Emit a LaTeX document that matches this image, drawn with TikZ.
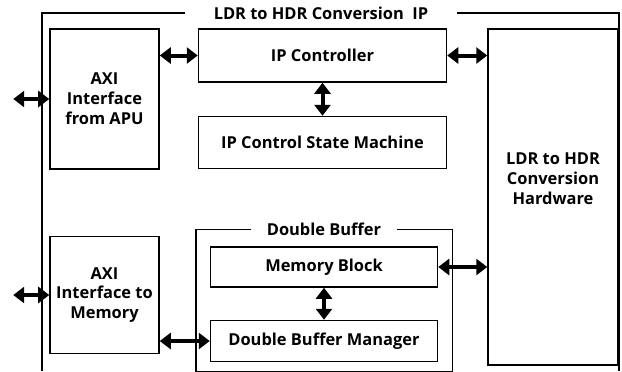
\documentclass[tikz,border=0pt]{standalone}
\usepackage{fontspec}
\setmainfont{Open Sans}
\usetikzlibrary{arrows.meta, positioning, calc}

\begin{document}
\begin{tikzpicture}[
  x=1bp, y=-1bp,
  >={Triangle[length=11bp, width=16bp]},
  block/.style={draw, line width=1.5bp, align=center, inner sep=0pt,
    font=\fontsize{16.5}{20}\selectfont\bfseries},
  title/.style={fill=white, inner sep=0pt, align=center,
    font=\fontsize{16.5}{20}\selectfont\bfseries},
  frame/.style={line width=1.5bp},
  link/.style={<->, line width=4bp}
]
\useasboundingbox (0,0) rectangle (622,371);

% left column: bus interfaces
\node[block, minimum width=109bp, minimum height=140bp] (apu) at (104.5,99) {AXI\\Interface\\from APU};
\node[block, minimum width=109bp, minimum height=117bp, below=66bp of apu] (axim) {AXI\\Interface to\\Memory};

% control path
\node[block, minimum width=248bp, minimum height=53bp, below right=0bp and 38bp of apu.north east] (ctrl) {IP Controller};
\node[block, minimum width=248bp, minimum height=52bp, below=33bp of ctrl] (fsm) {IP Control State Machine};

% conversion core
\node[block, minimum width=130bp, minimum height=336bp, below right=0bp and 40bp of ctrl.north east,
  label={[title, fill=none, yshift=18bp]center:LDR to HDR\\Conversion\\Hardware}] (hw) {};

% buffer
\node[block, minimum width=227bp, minimum height=40bp, below right=77bp and 12bp of fsm.south west] (mblk) {Memory Block};
\node[block, minimum width=227bp, minimum height=41bp, below=32bp of mblk] (dbm) {Double Buffer Manager};

% frames
\node[title, minimum width=272bp] (iptitle) at (321,13) {LDR to HDR Conversion\ \ IP};
\draw[frame] (iptitle.west) -| (42,371);
\draw[frame] (iptitle.east) -| (619,371);

\node[title, minimum width=145bp] (dbtitle) at ($(mblk.north)+(0,-17)$) {Double Buffer};
\draw[frame] (dbtitle.west) -| ($(dbm.south west)+(-14,9)$) -| ($(mblk.north east)+(14,-17)$) -- (dbtitle.east);

% links
\coordinate (apubus) at ($(apu.west)+(-36,0)$);
\coordinate (membus) at ($(axim.west)+(-36,0)$);
\draw[link] (apubus) -- (apu.west);
\draw[link] (membus) -- (axim.west);
\draw[link] (apu.east |- ctrl.west) -- (ctrl.west);
\draw[link] (ctrl.east) -- (hw.west |- ctrl.east);
\draw[link] (ctrl.south) -- (fsm.north);
\draw[link] (axim.east |- dbm.west) -- (dbm.west);
\draw[link] (mblk.east) -- (hw.west |- mblk.east);
\draw[link] (mblk.south) -- (dbm.north);
\end{tikzpicture}
\end{document}
